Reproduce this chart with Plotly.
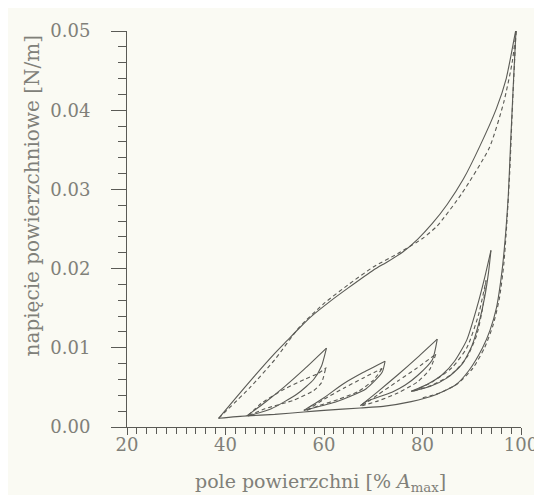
import plotly.graph_objects as go

# ---------------- data ----------------
# main loop: compression (solid / dashed) and expansion (solid / dashed)
main_comp_x = [38.6, 45, 50, 52.5, 55, 57.5, 61.3, 65, 70, 73, 76, 79, 82, 85, 88.3, 91.6, 95, 97, 98.6, 99.0]
main_comp_y = [0.0011, 0.0058, 0.0093, 0.0109, 0.0125, 0.0140, 0.0159, 0.0176, 0.0198, 0.0209, 0.0221, 0.0237, 0.0257, 0.0281, 0.0313, 0.0354, 0.0402, 0.0440, 0.0490, 0.0503]
main_comp_d_x = [38.6, 45, 50, 55, 60, 65, 70, 75, 80, 83, 88, 93.6, 96.5, 98.2, 99.0]
main_comp_d_y = [0.0011, 0.0050, 0.0085, 0.0126, 0.0156, 0.0180, 0.0202, 0.0219, 0.0238, 0.0254, 0.0295, 0.0353, 0.0410, 0.0460, 0.0500]
main_exp_x = [99.0, 98.5, 97.9, 97.4, 96.9, 96.2, 95.0, 93.7, 92.2, 89.5, 86.7, 82.4, 77.7, 72, 67.4, 60, 55.9, 50, 44.3, 38.6]
main_exp_y = [0.0503, 0.0440, 0.0360, 0.0290, 0.0246, 0.0200, 0.0150, 0.0122, 0.0100, 0.0072, 0.0053, 0.0040, 0.0032, 0.0026, 0.0024, 0.0021, 0.0019, 0.0016, 0.0014, 0.0011]
main_exp_d_x = [99.0, 98.3, 97.7, 97.1, 96.5, 95.6, 94.3, 92.6, 90.2, 87.2, 83.5, 79.5]
main_exp_d_y = [0.0500, 0.0410, 0.0320, 0.0255, 0.0205, 0.0162, 0.0128, 0.0100, 0.0074, 0.0055, 0.0043, 0.0036]

# loop 1
l1_comp_x = [44.3, 48, 52, 56, 60.5]
l1_comp_y = [0.0014, 0.0031, 0.0051, 0.0073, 0.00996]
l1_exp_x = [60.5, 59.5, 57.9, 54.6, 49.3, 44.6]
l1_exp_y = [0.00996, 0.0077, 0.0060, 0.0042, 0.0023, 0.0014]
l1_comp_d_x = [44.5, 47.3, 52, 56, 58.9, 60.5]
l1_comp_d_y = [0.0014, 0.0030, 0.0048, 0.0060, 0.0068, 0.0075]
l1_exp_d_x = [60.3, 59.5, 57.9, 53.9, 48, 44.5]
l1_exp_d_y = [0.0073, 0.0056, 0.0046, 0.0034, 0.0023, 0.0014]

# loop 2
l2_comp_x = [55.9, 60, 63.8, 68, 72.4]
l2_comp_y = [0.0021, 0.0037, 0.0054, 0.0069, 0.0083]
l2_exp_x = [72.4, 71.8, 68.5, 65, 62.5, 57.2, 55.9]
l2_exp_y = [0.0083, 0.0069, 0.0048, 0.0038, 0.0032, 0.0023, 0.0021]
l2_comp_d_x = [56.5, 60, 64, 68, 71.8]
l2_comp_d_y = [0.0021, 0.0035, 0.0049, 0.0062, 0.0074]
l2_exp_d_x = [71.8, 70, 67, 63, 59, 56.5]
l2_exp_d_y = [0.0074, 0.0059, 0.0045, 0.0035, 0.0027, 0.0021]

# loop 3
l3_comp_x = [67.4, 71, 75, 79, 83.0]
l3_comp_y = [0.0027, 0.0045, 0.0066, 0.0088, 0.0111]
l3_exp_x = [83.0, 82.0, 79.0, 76.5, 73.8, 68.5, 67.4]
l3_exp_y = [0.0111, 0.0085, 0.0065, 0.0053, 0.0044, 0.0032, 0.0027]
l3_comp_d_x = [67.8, 71, 75, 79, 82.7]
l3_comp_d_y = [0.0027, 0.0041, 0.0058, 0.0075, 0.0092]
l3_exp_d_x = [82.7, 81.5, 79, 75, 71, 67.8]
l3_exp_d_y = [0.0092, 0.0073, 0.0057, 0.0043, 0.0033, 0.0027]

# loop 4
l4_comp_x = [77.7, 81, 84, 86.5, 89, 91.0, 92.6, 93.9]
l4_comp_y = [0.0045, 0.0054, 0.0066, 0.0083, 0.0110, 0.0150, 0.0188, 0.0223]
l4_exp_x = [93.9, 93.4, 92.6, 91.6, 90, 88, 85, 81.5, 77.7]
l4_exp_y = [0.0223, 0.0195, 0.0163, 0.0135, 0.0102, 0.0079, 0.0062, 0.0051, 0.0045]
l4_comp_d_x = [78, 82, 86, 89, 91.3, 92.9]
l4_comp_d_y = [0.0045, 0.0057, 0.0075, 0.0100, 0.0140, 0.0185]
l4_exp_d_x = [92.9, 92.2, 91.0, 89, 86, 82, 78]
l4_exp_d_y = [0.0185, 0.0150, 0.0116, 0.0088, 0.0067, 0.0053, 0.0045]

y_ticks = [0.00, 0.01, 0.02, 0.03, 0.04, 0.05]
x_ticks = [20, 40, 60, 80, 100]

x_title = "pole powierzchni [% <i>A</i><sub>max</sub>]"
y_title = "napięcie powierzchniowe [N/m]"

# ---------------- figure ----------------
LINE = "#5a5a55"
TXT = "#808079"
BG = "#fafaf3"
FONT = "DejaVu Serif"

solid = [
    (main_comp_x, main_comp_y), (main_exp_x, main_exp_y),
    (l1_comp_x, l1_comp_y), (l1_exp_x, l1_exp_y),
    (l2_comp_x, l2_comp_y), (l2_exp_x, l2_exp_y),
    (l3_comp_x, l3_comp_y), (l3_exp_x, l3_exp_y),
    (l4_comp_x, l4_comp_y), (l4_exp_x, l4_exp_y),
]
dashed = [
    (main_comp_d_x, main_comp_d_y), (main_exp_d_x, main_exp_d_y),
    (l1_comp_d_x, l1_comp_d_y), (l1_exp_d_x, l1_exp_d_y),
    (l2_comp_d_x, l2_comp_d_y), (l2_exp_d_x, l2_exp_d_y),
    (l3_comp_d_x, l3_comp_d_y), (l3_exp_d_x, l3_exp_d_y),
    (l4_comp_d_x, l4_comp_d_y), (l4_exp_d_x, l4_exp_d_y),
]

fig = go.Figure()
for xs, ys in solid:
    fig.add_trace(go.Scatter(x=xs, y=ys, mode="lines", line=dict(color=LINE, width=1.1, shape="spline", smoothing=0.6),
                             showlegend=False, hoverinfo="skip"))
for xs, ys in dashed:
    fig.add_trace(go.Scatter(x=xs, y=ys, mode="lines", line=dict(color=LINE, width=1.1, dash="4px,3px", shape="spline", smoothing=0.6),
                             showlegend=False, hoverinfo="skip"))

fig.update_layout(
    width=542, height=495,
    margin=dict(l=119, r=20, t=14, b=76),
    paper_bgcolor=BG, plot_bgcolor=BG,
    font=dict(family=FONT, color=TXT, size=18),
    xaxis=dict(range=[20, 100], tickvals=x_ticks, showgrid=False, zeroline=False,
               showline=True, linecolor=LINE, linewidth=1,
               ticks="outside", ticklen=7, tickcolor=LINE, tickwidth=1,
               ticklabelstandoff=-6,
               minor=dict(dtick=2, ticks="outside", ticklen=6, tickcolor=LINE, tickwidth=1, showgrid=False),
               tickfont=dict(family=FONT, size=18, color=TXT)),
    yaxis=dict(range=[0, 0.05], tickvals=y_ticks, tickformat=".2f", showgrid=False, zeroline=False,
               showline=True, linecolor=LINE, linewidth=1,
               ticks="outside", ticklen=15, tickcolor=LINE, tickwidth=1,
               ticklabelstandoff=17,
               minor=dict(dtick=0.002, ticks="outside", ticklen=8, tickcolor=LINE, tickwidth=1, showgrid=False),
               tickfont=dict(family=FONT, size=18, color=TXT)),
    annotations=[
        dict(text=x_title, xref="paper", yref="paper", x=(317 - 119) / 403, y=(419 - 476) / 405,
             xanchor="center", yanchor="middle", showarrow=False, font=dict(family=FONT, size=19, color=TXT)),
        dict(text=y_title, xref="paper", yref="paper", x=(22 - 119) / 403, y=(419 - 183) / 405,
             xanchor="center", yanchor="middle", textangle=-90, showarrow=False,
             font=dict(family=FONT, size=20, color=TXT)),
    ],
)

fig.write_html("out.html")
